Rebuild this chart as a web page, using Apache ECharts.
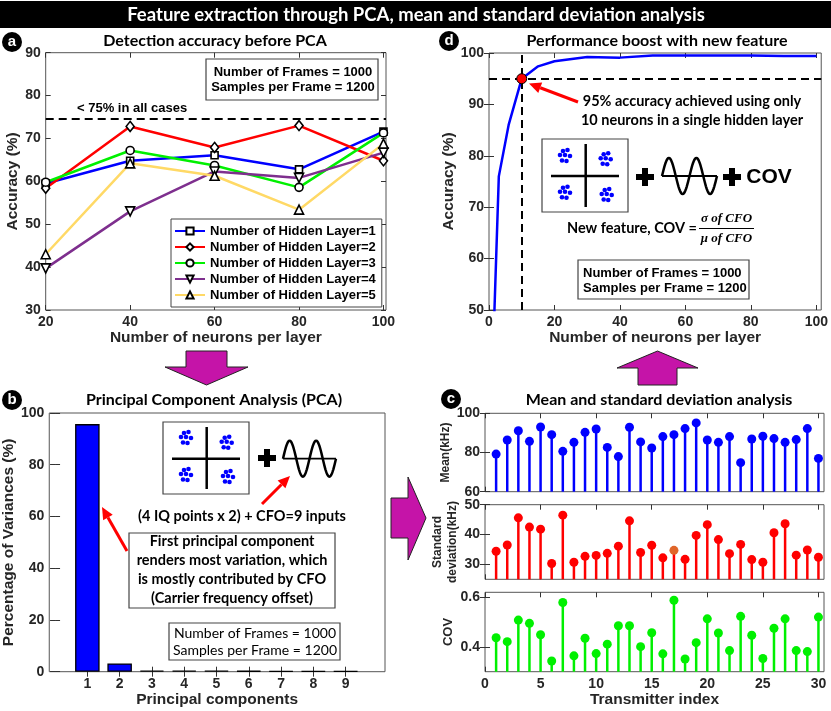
<!DOCTYPE html>
<html>
<head>
<meta charset="utf-8">
<script src="https://cdn.jsdelivr.net/npm/echarts@6/dist/echarts.min.js"></script>
<style>
html, body { margin: 0; padding: 0; background: #fff; }
#main { width: 831px; height: 711px; }
</style>
</head>
<body>
<div id="main"></div>
<script>
// ---- panel a : accuracy before PCA
var neurons = [20, 40, 60, 80, 100];
var layer1 = [59.5, 64.8, 66.1, 62.8, 71.6];
var layer2 = [58.4, 72.8, 67.9, 73.0, 64.8];
var layer3 = [59.8, 67.2, 63.7, 58.6, 71.3];
var layer4 = [39.7, 53.0, 62.3, 60.8, 66.7];
var layer5 = [43.0, 64.2, 61.3, 53.4, 68.8];
var layerNames = ['Number of Hidden Layer=1', 'Number of Hidden Layer=2', 'Number of Hidden Layer=3',
  'Number of Hidden Layer=4', 'Number of Hidden Layer=5'];

// ---- panel d : boost with new feature
var boostX = [1, 3, 6, 10, 15, 20, 30, 40, 50, 60, 70, 80, 90, 100];
var boostY = [37, 76, 86, 95, 97.4, 98.4, 99.2, 99.1, 99.5, 99.5, 99.5, 99.5, 99.4, 99.4];
var markPoint = [10, 95];

// ---- panel b : PCA
var pcs = [1, 2, 3, 4, 5, 6, 7, 8, 9];
var variance = [95.7, 3.2, 0.5, 0.45, 0.4, 0.35, 0.3, 0.3, 0.25];

// ---- panel c : mean / std / cov per transmitter
var tx = [1, 2, 3, 4, 5, 6, 7, 8, 9, 10, 11, 12, 13, 14, 15, 16, 17, 18, 19, 20, 21, 22, 23, 24, 25, 26, 27, 28, 29, 30];
var meanKHz = [79.2, 86.4, 91.1, 85.7, 93.0, 89.1, 80.6, 85.2, 90.3, 92.0, 82.6, 77.9, 92.9, 85.4, 82.3,
  88.1, 89.1, 92.2, 95.1, 86.4, 85.2, 88.1, 74.8, 86.9, 88.3, 87.1, 85.2, 86.6, 92.2, 77.0];
var stdKHz = [34.4, 36.5, 45.6, 42.5, 41.8, 30.3, 46.5, 30.7, 32.7, 33.0, 33.7, 36.1, 44.6, 34.0, 36.4,
  32.2, 34.7, 31.7, 39.7, 43.3, 38.3, 33.6, 36.7, 31.6, 30.7, 40.6, 43.6, 33.1, 34.8, 32.4];
var cov = [0.437, 0.421, 0.508, 0.495, 0.449, 0.343, 0.579, 0.364, 0.435, 0.373, 0.411, 0.485, 0.485, 0.401, 0.457,
  0.372, 0.588, 0.351, 0.417, 0.513, 0.456, 0.385, 0.523, 0.447, 0.353, 0.475, 0.513, 0.385, 0.381, 0.520];

var FONT = 'Liberation Sans';
var CAL = 'Lato';
var MAG = '#c514a8';

function zip(xs, ys) {
  return xs.map(function (x, i) { return [x, ys[i]]; });
}

function axis(grid, min, max, ticks, opt) {
  var o = {
    type: 'value', gridIndex: grid, min: min, max: max,
    axisLine: { show: false },
    axisTick: { inside: true, length: 5, customValues: ticks, lineStyle: { color: '#333' } },
    axisLabel: { customValues: ticks, color: '#262626', fontFamily: FONT, fontWeight: 'bold', fontSize: 14, margin: 5 },
    splitLine: { show: false },
    nameLocation: 'middle',
    nameTextStyle: { color: '#262626', fontFamily: FONT, fontWeight: 'bold', fontSize: 15.5 }
  };
  for (var k in opt) o[k] = opt[k];
  return o;
}

// matlab style box: ticks also on the top and right edges
function mirror(ax, pos) {
  return {
    type: 'value', gridIndex: ax.gridIndex, min: ax.min, max: ax.max, position: pos,
    axisLine: { show: false }, axisLabel: { show: false }, splitLine: { show: false },
    axisTick: { inside: true, length: 5, customValues: ax.axisTick.customValues, lineStyle: { color: '#333' } }
  };
}

function gridBox(left, top, right, bottom) {
  return { left: left, top: top, right: right, bottom: bottom, show: true, borderColor: '#555', borderWidth: 1 };
}

function lineSeries(name, data, color, symbol, size, rot) {
  return {
    name: name, type: 'line', xAxisIndex: 0, yAxisIndex: 0,
    data: zip(neurons, data), symbol: symbol, symbolSize: size, symbolRotate: rot || 0,
    lineStyle: { color: color, width: 2.5 },
    itemStyle: { color: '#fff', borderColor: '#000', borderWidth: 1.6 }
  };
}

function stem(ax, data, color) {
  return [{
    type: 'bar', xAxisIndex: ax, yAxisIndex: ax, data: zip(tx, data),
    barWidth: 2.5, itemStyle: { color: color }, clip: true
  }, {
    type: 'scatter', xAxisIndex: ax, yAxisIndex: ax, data: zip(tx, data),
    symbolSize: 9, itemStyle: { color: color, opacity: 1 }
  }];
}

// ---- graphic helpers
function txt(x, y, text, o) {
  o = o || {};
  return {
    type: 'text', z: 100,
    style: {
      x: x, y: y, text: text, fill: o.fill || '#000',
      fontFamily: o.family || CAL, fontWeight: o.weight || 'bold', fontSize: o.size || 14,
      fontStyle: o.style || 'normal',
      textAlign: o.align || 'center', textVerticalAlign: 'middle', lineHeight: o.lh || 16
    }
  };
}
function box(x, y, w, h) {
  return { type: 'rect', z: 90, shape: { x: x, y: y, width: w, height: h },
    style: { fill: '#fff', stroke: '#444', lineWidth: 1.2 } };
}
function seg(x1, y1, x2, y2, color, w) {
  return { type: 'line', z: 100, shape: { x1: x1, y1: y1, x2: x2, y2: y2 },
    style: { stroke: color || '#000', lineWidth: w || 2.5 } };
}
function poly(points, fill) {
  return { type: 'polygon', z: 95, shape: { points: points },
    style: { fill: fill, stroke: '#222', lineWidth: 1 } };
}
function redArrow(x1, y1, x2, y2) {
  var a = Math.atan2(y2 - y1, x2 - x1), L = 12, W = 5.5;
  var bx = x2 - L * Math.cos(a), by = y2 - L * Math.sin(a);
  return [
    seg(x1, y1, bx, by, '#ff0000', 3),
    { type: 'polygon', z: 100, shape: { points: [[x2, y2],
      [bx + W * Math.sin(a), by - W * Math.cos(a)], [bx - W * Math.sin(a), by + W * Math.cos(a)]] },
      style: { fill: '#ff0000' } }
  ];
}
function badge(x, y, letter) {
  return [
    { type: 'circle', z: 100, shape: { cx: x, cy: y, r: 10 }, style: { fill: '#000' } },
    txt(x, y, letter, { fill: '#fff', family: FONT, size: 15 })
  ];
}
function plus(cx, cy) {
  return [
    { type: 'rect', z: 100, shape: { x: cx - 9, y: cy - 3, width: 18, height: 6 }, style: { fill: '#000' } },
    { type: 'rect', z: 100, shape: { x: cx - 3, y: cy - 9, width: 6, height: 18 }, style: { fill: '#000' } }
  ];
}
var dotPattern = [[-2, -5], [2.5, -6], [-5, -1], [0, -1], [5, 0], [-3, 4.5], [1.5, 5]];
function cluster(cx, cy) {
  return dotPattern.map(function (p) {
    return { type: 'circle', z: 100, shape: { cx: cx + p[0], cy: cy + p[1], r: 2.3 }, style: { fill: '#0000ff' } };
  });
}
function constellation(x, y, w, h, vx, hy, centers) {
  var out = [box(x, y, w, h), seg(vx, y + 5, vx, y + h - 5), seg(x + 9, hy, x + w - 9, hy)];
  centers.forEach(function (c) { out = out.concat(cluster(c[0], c[1])); });
  return out;
}
function wave(x0, x1, base, amp) {
  var pts = [], n = 80, period = (x1 - x0) / 2;
  for (var i = 0; i <= n; i++) {
    var x = x0 + (x1 - x0) * i / n;
    pts.push([x, base - amp * Math.sin(2 * Math.PI * (x - x0) / period)]);
  }
  return [
    seg(x0, base, x1, base, '#000', 1.8),
    { type: 'polyline', z: 100, shape: { points: pts }, style: { stroke: '#000', lineWidth: 2.5, fill: null } }
  ];
}

var graphics = [
  { type: 'rect', z: 90, shape: { x: 0, y: 1, width: 831, height: 27 }, style: { fill: '#000' } },
  txt(416, 15, 'Feature extraction through PCA, mean and standard deviation analysis', { fill: '#fff', size: 18.5 }),
  // panel titles
  txt(215, 41, 'Detection accuracy before PCA', { size: 16 }),
  txt(657, 41, 'Performance boost with new feature', { size: 16 }),
  txt(214, 400, 'Principal Component Analysis (PCA)', { size: 16 }),
  txt(659, 400, 'Mean and standard deviation analysis', { size: 16 }),
  // panel a texts
  box(206, 59, 172, 41),
  txt(293, 80, 'Number of Frames = 1000\nSamples per Frame = 1200', { family: FONT, size: 13, lh: 15 }),
  txt(77, 108, '< 75% in all cases', { family: FONT, size: 13, align: 'left' }),
  // panel d texts
  txt(692, 111, '95% accuracy achieved using only\n10 neurons in a single hidden layer', { size: 14.5, lh: 18.5 }),
  box(578, 260, 171, 39),
  txt(583, 281, 'Number of Frames = 1000\nSamples per Frame = 1200', { family: FONT, size: 13, lh: 15.5, align: 'left' }),
  txt(632, 228.5, 'New feature, COV =', { size: 14.5 }),
  seg(699, 228.5, 754, 228.5, '#000', 1),
  txt(726.5, 218.5, 'σ of CFO', { family: 'Liberation Serif', style: 'italic', size: 13 }),
  txt(726.5, 238.5, 'μ of CFO', { family: 'Liberation Serif', style: 'italic', size: 13 }),
  txt(769, 177, 'COV', { family: FONT, size: 21 }),
  // panel b texts
  txt(242, 516, '(4 IQ points x 2) + CFO=9 inputs', { size: 14.5 }),
  box(129, 533, 206, 75),
  txt(232, 569.5, 'First principal component\nrenders most variation, which\nis mostly contributed by CFO\n(Carrier frequency offset)', { size: 14.5, lh: 19 }),
  box(169, 623, 171, 37),
  txt(255, 642, 'Number of Frames = 1000\nSamples per Frame = 1200', { size: 14, lh: 17.5, weight: 'normal' }),
  // magenta flow arrows
  poly([[186, 351], [227, 351], [227, 367], [248, 367], [206.5, 385], [165, 367], [186, 367]], MAG),
  poly([[391, 498], [408, 498], [408, 477], [426, 518], [408, 560], [408, 538], [391, 538]], MAG),
  poly([[657.5, 351], [698, 368], [677, 368], [677, 385], [638, 385], [638, 368], [617, 368]], MAG)
];
graphics = graphics
  .concat(badge(12, 42, 'a'), badge(449, 41, 'd'), badge(12, 400, 'b'), badge(451, 399, 'c'))
  .concat(redArrow(578, 102, 529, 83.5), redArrow(262, 504, 290, 476), redArrow(127, 551, 102, 507))
  .concat(constellation(542, 139, 86, 73, 585.7, 176, [[565, 156], [605.7, 159.3], [565, 192.7], [606.7, 195]]))
  .concat(plus(645, 177), wave(662, 717, 176, 18), plus(732, 177))
  .concat(constellation(163, 422, 86, 72, 206.7, 458.7, [[186, 438], [226.7, 442.7], [186, 475], [228, 477]]))
  .concat(plus(267, 458), wave(283, 336, 458.7, 18));

var dash = { color: '#000', width: 2, type: [8, 5] };
var cTicks = [0, 5, 10, 15, 20, 25, 30];

var xAxes = [
  axis(0, 20, 100.6, neurons, { name: 'Number of neurons per layer', nameGap: 19 }),
  axis(1, 0, 101.5, [0, 20, 40, 60, 80, 100], { name: 'Number of neurons per layer', nameGap: 19 }),
  axis(2, -0.18, 10.22, pcs, { name: 'Principal components', nameGap: 20 }),
  axis(3, 0, 30.5, cTicks, { axisLabel: { show: false } }),
  axis(4, 0, 30.5, cTicks, { axisLabel: { show: false } }),
  axis(5, 0, 30.5, cTicks, { name: 'Transmitter index', nameGap: 20 })
];
var yAxes = [
  axis(0, 30, 90, [30, 40, 50, 60, 70, 80, 90], { name: 'Accuracy (%)', nameGap: 25 }),
  axis(1, 50, 100, [50, 60, 70, 80, 90, 100], { name: 'Accuracy (%)', nameGap: 32 }),
  axis(2, 0, 100, [0, 20, 40, 60, 80, 100], { name: 'Percentage of Variances (%)', nameGap: 26 }),
  axis(3, 60, 100, [60, 80, 100], { name: 'Mean(kHz)', nameGap: 33,
    nameTextStyle: { color: '#262626', fontFamily: FONT, fontWeight: 'bold', fontSize: 12 } }),
  axis(4, 25, 50, [30, 40, 50], { name: 'Standard\ndeviation(kHz)', nameGap: 25,
    nameTextStyle: { color: '#262626', fontFamily: FONT, fontWeight: 'bold', fontSize: 12, lineHeight: 15 } }),
  axis(5, 0.3, 0.62, [0.4, 0.6], { name: 'COV', nameGap: 30,
    nameTextStyle: { color: '#262626', fontFamily: FONT, fontWeight: 'bold', fontSize: 13 } })
];
xAxes = xAxes.concat(xAxes.map(function (a) { return mirror(a, 'top'); }));
yAxes = yAxes.concat(yAxes.map(function (a) { return mirror(a, 'right'); }));

var option = {
  animation: false,
  backgroundColor: '#fff',
  grid: [
    gridBox(45.7, 52.7, 445, 401),   // a
    gridBox(489, 53, 3, 401),        // d
    gridBox(45.7, 413, 446, 39.3),   // b
    gridBox(485, 413.3, 7, 219.3),   // c mean
    gridBox(485, 504.7, 7, 131.7),   // c std
    gridBox(485, 592.3, 7, 39.3)     // c cov
  ],
  xAxis: xAxes,
  yAxis: yAxes,
  legend: {
    data: layerNames, orient: 'vertical', left: 171, top: 219,
    itemWidth: 30, itemHeight: 9, itemGap: 0, selectedMode: false,
    padding: [4, 6, 4, 3], backgroundColor: '#fff', borderColor: '#444', borderWidth: 1,
    textStyle: { fontFamily: FONT, fontWeight: 'bold', fontSize: 13, color: '#000', lineHeight: 16 }
  },
  series: [
    Object.assign(lineSeries(layerNames[0], layer1, '#0000ff', 'rect', 7), {
      markLine: { silent: true, symbol: 'none', label: { show: false }, lineStyle: dash, data: [{ yAxis: 74.7 }] }
    }),
    lineSeries(layerNames[1], layer2, '#ff0000', 'diamond', [8, 10]),
    lineSeries(layerNames[2], layer3, '#00f000', 'circle', 8),
    lineSeries(layerNames[3], layer4, '#7e2f8e', 'triangle', 9, 180),
    lineSeries(layerNames[4], layer5, '#ffd966', 'triangle', 9),
    {
      type: 'line', xAxisIndex: 1, yAxisIndex: 1, data: zip(boostX, boostY), showSymbol: false,
      lineStyle: { color: '#0000ff', width: 2.5 }, clip: true,
      markLine: { silent: true, symbol: 'none', label: { show: false }, lineStyle: dash,
        data: [{ yAxis: markPoint[1] }, { xAxis: markPoint[0] }] }
    },
    {
      type: 'scatter', xAxisIndex: 1, yAxisIndex: 1, data: [markPoint], symbolSize: 10, z: 5,
      itemStyle: { color: '#ff0000', borderColor: '#000', borderWidth: 1, opacity: 1 }
    },
    {
      type: 'bar', xAxisIndex: 2, yAxisIndex: 2, data: zip(pcs, variance), barWidth: 24.5,
      itemStyle: { color: '#0000ff', borderColor: '#000', borderWidth: 1.3 }
    }
  ].concat(
    stem(3, meanKHz, '#0000ff'),
    stem(4, stdKHz, '#ff0000'),
    stem(5, cov, '#00f000')
  ),
  graphic: graphics
};

// one std marker is drawn in orange in the original figure
option.series[option.series.length - 3].itemStyle = {
  opacity: 1,
  color: function (p) { return p.dataIndex === 16 ? '#e0662a' : '#ff0000'; }
};

var chart = echarts.init(document.getElementById('main'));
chart.setOption(option);
</script>
</body>
</html>
